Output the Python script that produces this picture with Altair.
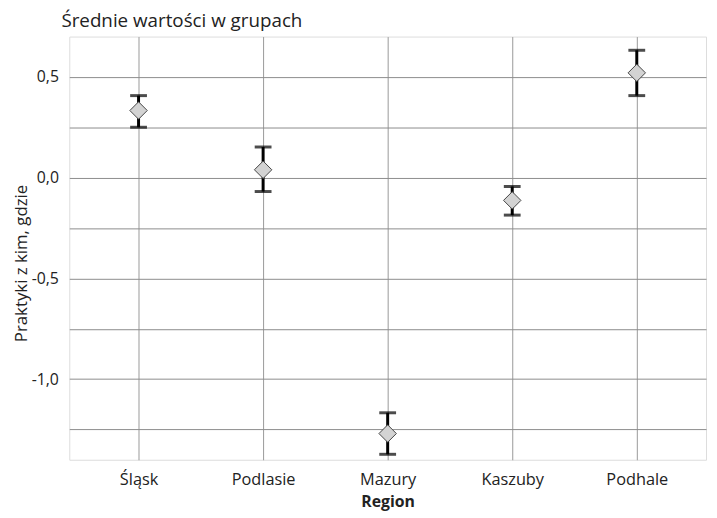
import altair as alt
import pandas as pd

regions = ["Śląsk", "Podlasie", "Mazury", "Kaszuby", "Podhale"]
means = [0.333, 0.039, -1.27, -0.113, 0.52]
lower = [0.25, -0.069, -1.373, -0.186, 0.407]
upper = [0.407, 0.152, -1.167, -0.044, 0.632]

df = pd.DataFrame({"region": regions, "mean": means, "lo": lower, "hi": upper})

FONT = "Open Sans"
grid_vals = [-1.25, -1.0, -0.75, -0.5, -0.25, 0.0, 0.25, 0.5]

x_enc = alt.X(
    "region:N",
    sort=regions,
    title="Region",
    scale=alt.Scale(type="point", padding=0.556),
    axis=alt.Axis(
        grid=True, gridColor="#999999", gridWidth=1, gridOpacity=1,
        ticks=False, domain=False, labelAngle=0, labelPadding=12,
        labelFont=FONT, labelFontSize=16.5, labelColor="#222",
        titleFont=FONT, titleFontSize=16, titleFontWeight="bold",
        titleColor="#222", titlePadding=6,
    ),
)
y_scale = alt.Scale(domain=[-1.4, 0.7], nice=False, zero=False)
y_axis = alt.Axis(
    values=grid_vals, grid=True, gridColor="#8c8c8c", gridWidth=1, gridOpacity=1,
    ticks=False, domain=False, labelPadding=11,
    labelExpr="datum.value % 0.5 == 0 ? replace(replace(format(datum.value, '.1f'), '.', ','), '\u2212', '-') : ''",
    labelFont=FONT, labelFontSize=16, labelColor="#222",
    titleFont=FONT, titleFontSize=17, titleFontWeight="normal", titleColor="#222",
    titleX=-48, titleY=229, titleAngle=270, titleAlign="center", titleBaseline="middle",
)

base = alt.Chart(df)

rule = base.mark_rule(color="black", strokeWidth=3).encode(
    x=x_enc,
    y=alt.Y("lo:Q", scale=y_scale, axis=y_axis, title="Praktyki z kim, gdzie"),
    y2="hi:Q",
)
cap_lo = base.mark_tick(color="black", thickness=3, size=17, orient="horizontal").encode(
    x=alt.X("region:N", sort=regions), y=alt.Y("lo:Q")
)
cap_hi = base.mark_tick(color="black", thickness=3, size=17, orient="horizontal").encode(
    x=alt.X("region:N", sort=regions), y=alt.Y("hi:Q")
)
pts = base.mark_point(shape="diamond", filled=True, fill="#d3d3d3", stroke="#444",
                      strokeWidth=1, size=310, opacity=1).encode(
    x=alt.X("region:N", sort=regions), y=alt.Y("mean:Q")
)

chart = (
    alt.layer(rule, cap_lo, cap_hi, pts)
    .properties(
        width=644, height=428,
        title=alt.TitleParams(
            "Średnie wartości w grupach", anchor="start", frame="group",
            font=FONT, fontSize=19, fontWeight="normal", color="#222",
            dx=-8, offset=6,
        ),
        autosize=alt.AutoSizeParams(type="none"),
        padding={"left": 62, "top": 26, "right": 3, "bottom": 54},
    )
    .configure_view(stroke=None)
    .configure(background="white")
)

chart.save("out.html", embed_options={"renderer": "svg", "actions": False})
